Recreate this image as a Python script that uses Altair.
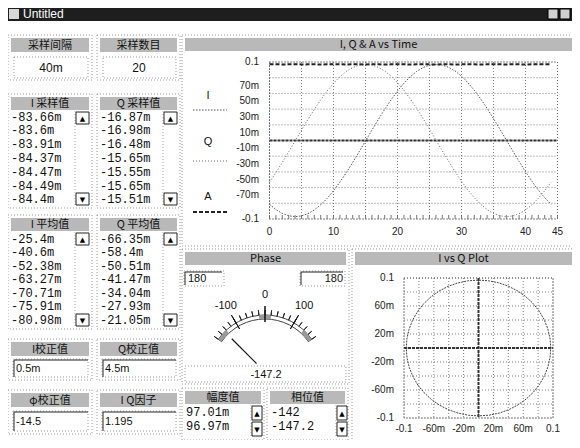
import altair as alt
import pandas as pd

M = 8  # page margin: reference pixel p is drawn at chart pixel p - M

# ---------------- values ----------------
time_idx = list(range(45))
i_wave_m = [-81.3, -88.0, -92.9, -95.9, -97.0, -96.1, -93.2, -88.5, -81.9, -73.7,
            -64.0, -53.0, -40.9, -27.9, -14.4, -0.6, 13.2, 26.7, 39.7, 51.9,
            63.1, 72.9, 81.3, 88.0, 92.9, 95.9, 97.0, 96.1, 93.2, 88.5,
            81.9, 73.7, 64.0, 53.0, 40.9, 27.9, 14.4, 0.6, -13.2, -26.7,
            -39.7, -51.9, -63.1, -72.9, -81.3]
q_wave_m = [-53.0, -40.9, -27.9, -14.4, -0.6, 13.2, 26.7, 39.7, 51.9, 63.1,
            72.9, 81.3, 88.0, 92.9, 95.9, 97.0, 96.1, 93.2, 88.5, 81.9,
            73.7, 64.0, 53.0, 40.9, 27.9, 14.4, 0.6, -13.2, -26.7, -39.7,
            -51.9, -63.1, -72.9, -81.3, -88.0, -92.9, -95.9, -97.0, -96.1, -93.2,
            -88.5, -81.9, -73.7, -64.0, -53.0]
a_wave_m = [97.0, 97.1, 96.9, 97.0, 97.2, 96.9, 97.0, 97.1, 96.8, 97.0,
            97.1, 97.0, 96.9, 97.2, 97.0, 96.9, 97.1, 97.0, 96.8, 97.0,
            97.1, 97.0, 96.9, 97.0, 97.2, 97.0, 96.9, 97.1, 97.0, 96.8,
            97.0, 97.1, 97.0, 96.9, 97.0, 97.2, 97.0, 96.9, 97.1, 97.0,
            96.8, 97.0, 97.1, 97.01, 96.97]

i_samples_m = [-83.66, -83.6, -83.91, -84.37, -84.47, -84.49, -84.4]
q_samples_m = [-16.87, -16.98, -16.48, -15.65, -15.55, -15.65, -15.51]
i_means_m = [-25.4, -40.6, -52.38, -63.27, -70.71, -75.91, -80.98]
q_means_m = [-66.35, -58.4, -50.51, -41.47, -34.04, -27.93, -21.05]
amp_list_m = [97.01, 96.97]
phase_list = [-142, -147.2]
meter_value = -147.2
meter_min, meter_max = -180, 180
meter_labels = [-100, 0, 100]
meter_ticks = list(range(-180, 181, 20))

sample_interval = "40m"
sample_count = "20"
i_corr = "0.5m"
q_corr = "4.5m"
phi_corr = "-14.5"
iq_factor = "1.195"

t_grid = [0, 5, 10, 15, 20, 25, 30, 35, 40, 45]
t_minor = list(range(0, 46))
t_labels = [0, 10, 20, 30, 40, 45]
v_grid = [-0.1, -0.08, -0.06, -0.04, -0.02, 0.0, 0.02, 0.04, 0.06, 0.08, 0.1]
v_label_vals = [0.1, 0.07, 0.05, 0.03, 0.01, -0.01, -0.03, -0.05, -0.07, -0.1]
v_label_text = ["0.1", "70m", "50m", "30m", "10m", "-10m", "-30m", "-50m", "-70m", "-0.1"]
iq_grid = [-0.1, -0.08, -0.06, -0.04, -0.02, 0.0, 0.02, 0.04, 0.06, 0.08, 0.1]
iq_label_vals = [-0.1, -0.06, -0.02, 0.02, 0.06, 0.1]
iq_label_text = ["-0.1", "-60m", "-20m", "20m", "60m", "0.1"]

# ---------------- helpers ----------------
SANS = "Liberation Sans"
CJK = "Noto Sans CJK SC"
MONO = "Liberation Mono"


def px(v):
    return v - M


def _shift(df, cols):
    for c in cols:
        df[c] = df[c] - M
    return df


def boxes(rows, **mk):
    df = _shift(pd.DataFrame(rows, columns=["x1", "y1", "x2", "y2"]), ["x1", "y1", "x2", "y2"])
    return alt.Chart(df).mark_rect(**mk).encode(
        x=alt.X("x1:Q", scale=None, axis=None), x2="x2",
        y=alt.Y("y1:Q", scale=None, axis=None), y2="y2")


def segs(rows, **mk):
    df = _shift(pd.DataFrame(rows, columns=["x1", "y1", "x2", "y2"]), ["x1", "y1", "x2", "y2"])
    return alt.Chart(df).mark_rule(**mk).encode(
        x=alt.X("x1:Q", scale=None, axis=None), x2="x2",
        y=alt.Y("y1:Q", scale=None, axis=None), y2="y2")


def texts(rows, **mk):
    df = _shift(pd.DataFrame(rows, columns=["x", "y", "label"]), ["x", "y"])
    return alt.Chart(df).mark_text(**mk).encode(
        x=alt.X("x:Q", scale=None, axis=None),
        y=alt.Y("y:Q", scale=None, axis=None),
        text="label:N")


layers = []

# ---------------- window title bar ----------------
layers.append(boxes([(0, 0, 580, 21)], fill="#1e1e1e"))
layers.append(boxes([(9, 9, 19, 19)], fill="#d8d8d8"))
layers.append(boxes([(548, 9, 558, 19), (560, 9, 570, 19)], fill="#d0d0d0", stroke="#000", strokeWidth=1))
layers.append(texts([(23, 14, "Untitled")], font=SANS, fontSize=12, color="white", align="left", baseline="middle"))

# ---------------- dotted group outlines ----------------
groups = [(8, 35, 92, 80), (97, 35, 180, 80), (8, 94, 92, 208), (97, 94, 180, 208),
          (8, 215, 92, 329), (97, 215, 180, 329), (8, 339, 92, 380), (97, 339, 180, 380),
          (8, 390, 92, 434), (97, 390, 180, 434), (182, 35, 575, 246), (182, 249, 349, 384),
          (352, 249, 575, 445), (182, 388, 264, 440), (267, 388, 348, 440)]
layers.append(boxes(groups, fillOpacity=0, stroke="#9a9a9a", strokeWidth=1, strokeDash=[1, 2]))

# value boxes
vboxes = [(14, 57, 88, 78), (103, 57, 176, 78), (13, 359, 88, 377), (102, 359, 176, 377),
          (13, 411, 88, 431), (102, 411, 176, 431), (185, 366, 346, 382),
          (184, 271, 224, 286), (300, 271, 345, 286)]
layers.append(boxes(vboxes, fillOpacity=0, stroke="#9a9a9a", strokeWidth=1, strokeDash=[1, 2]))
brackets = [(14, 360, 88, 360), (14, 360, 14, 377), (103, 360, 176, 360), (103, 360, 103, 377),
            (14, 412, 88, 412), (14, 412, 14, 431), (103, 412, 176, 412), (103, 412, 103, 431),
            (185, 272, 222, 272), (185, 272, 185, 285), (301, 272, 343, 272), (301, 272, 301, 285)]
layers.append(segs(brackets, color="#222", strokeWidth=1))

# ---------------- list boxes ----------------
rows = []
for k, v in enumerate(i_samples_m):
    rows.append((11, 116.5 + 13.8 * k, f"{v:g}m"))
for k, v in enumerate(q_samples_m):
    rows.append((100, 116.5 + 13.8 * k, f"{v:g}m"))
for k, v in enumerate(i_means_m):
    rows.append((11, 238.5 + 13.5 * k, f"{v:g}m"))
for k, v in enumerate(q_means_m):
    rows.append((100, 238.5 + 13.5 * k, f"{v:g}m"))
for k, v in enumerate(amp_list_m):
    rows.append((186, 412 + 14 * k, f"{v:g}m"))
for k, v in enumerate(phase_list):
    rows.append((271, 412 + 14 * k, f"{v:g}"))
layers.append(texts(rows, font=MONO, fontSize=12, color="#111", align="left", baseline="middle"))

# scrollbars
sb_lines = [(75, 111, 75, 205), (163, 111, 163, 205), (75, 232, 75, 326), (163, 232, 163, 326),
            (251, 405, 251, 437), (336, 405, 336, 437)]
layers.append(segs(sb_lines, color="#aaa", strokeWidth=1, strokeDash=[1, 2]))
arrow_boxes = [(76, 112, 89, 124), (76, 193, 89, 205), (164, 112, 177, 124), (164, 193, 177, 205),
               (76, 233, 89, 245), (76, 314, 89, 326), (164, 233, 177, 245), (164, 314, 177, 326),
               (252, 406, 262, 420), (252, 422, 262, 436), (337, 406, 347, 420), (337, 422, 347, 436)]
layers.append(boxes(arrow_boxes, fill="white", stroke="#222", strokeWidth=1))
arrows = []
for (x1, y1, x2, y2), g in zip(arrow_boxes, ["▲", "▼"] * 6):
    arrows.append(((x1 + x2) / 2, (y1 + y2) / 2 + 0.5, g))
layers.append(texts(arrows, font="DejaVu Sans", fontSize=7, color="#000", align="center", baseline="middle"))

# ---------------- headers ----------------
headers = [(11, 38, 89, 52, "采样间隔"), (100, 38, 177, 52, "采样数目"),
           (11, 97, 89, 110, "I 采样值"), (100, 97, 177, 110, "Q 采样值"),
           (11, 218, 89, 231, "I 平均值"), (100, 218, 177, 231, "Q 平均值"),
           (11, 342, 89, 356, "I校正值"), (100, 342, 177, 356, "Q校正值"),
           (11, 393, 89, 407, "φ校正值"), (100, 393, 177, 407, "I Q因子"),
           (185, 38, 572, 51, "I, Q & A vs Time"), (185, 252, 346, 265, "Phase"),
           (355, 252, 572, 265, "I vs Q Plot"), (185, 391, 261, 404, "幅度值"),
           (270, 391, 345, 404, "相位值")]
layers.append(boxes([h[:4] for h in headers], fill="#b9b9b9"))
layers.append(texts([((h[0] + h[2]) / 2, (h[1] + h[3]) / 2 + 0.5, h[4]) for h in headers],
                    font=CJK, fontSize=11, color="#111", align="center", baseline="middle"))

# control values
layers.append(texts([(51, 68, sample_interval), (139, 68, sample_count)],
                    font=SANS, fontSize=12, color="#111", align="center", baseline="middle"))
layers.append(texts([(16, 368.5, i_corr), (105, 368.5, q_corr), (16, 421.5, phi_corr), (105, 421.5, iq_factor)],
                    font=SANS, fontSize=11, color="#111", align="left", baseline="middle"))
layers.append(texts([(188, 279, str(meter_max))], font=SANS, fontSize=11, color="#111", align="left", baseline="middle"))
layers.append(texts([(343, 279, str(meter_max))], font=SANS, fontSize=11, color="#111", align="right", baseline="middle"))
layers.append(texts([(266, 374.5, f"{meter_value:g}")], font=SANS, fontSize=11, color="#111", align="center", baseline="middle"))

# ---------------- I, Q & A vs Time ----------------
TS = alt.Scale(domain=[0, 45], range=[px(269.5), px(557.5)], nice=False, zero=False)
VS = alt.Scale(domain=[-0.1, 0.1], range=[px(219), px(62)], nice=False, zero=False)

layers.append(alt.Chart(pd.DataFrame({"g": t_grid})).mark_rule(color="#808080", strokeWidth=1, strokeDash=[1, 2]).encode(
    x=alt.X("g:Q", scale=TS, axis=None), y=alt.value(px(62)), y2=alt.value(px(219))))
layers.append(alt.Chart(pd.DataFrame({"g": v_grid})).mark_rule(color="#808080", strokeWidth=1, strokeDash=[1, 2]).encode(
    y=alt.Y("g:Q", scale=VS, axis=None), x=alt.value(px(269.5)), x2=alt.value(px(557.5))))
layers.append(alt.Chart(pd.DataFrame({"g": t_minor})).mark_rule(color="#777", strokeWidth=1).encode(
    x=alt.X("g:Q", scale=TS, axis=None), y=alt.value(px(215)), y2=alt.value(px(219))))
layers.append(alt.Chart(pd.DataFrame({"v": v_label_vals, "label": v_label_text})).mark_text(
    font=SANS, fontSize=10, color="#222", align="right", baseline="middle").encode(
    y=alt.Y("v:Q", scale=VS, axis=None), x=alt.value(px(259)), text="label:N"))
layers.append(alt.Chart(pd.DataFrame({"t": t_labels})).mark_text(
    font=SANS, fontSize=10, color="#222", align="center", baseline="middle").encode(
    x=alt.X("t:Q", scale=TS, axis=None), y=alt.value(px(232)), text="t:N"))

wave = pd.DataFrame({"t": time_idx, "i": [v / 1000 for v in i_wave_m],
                     "q": [v / 1000 for v in q_wave_m], "a": [v / 1000 for v in a_wave_m]})
layers.append(alt.Chart(pd.DataFrame({"z": [0.0]})).mark_rule(color="#333", strokeWidth=2, strokeDash=[3, 1]).encode(
    y=alt.Y("z:Q", scale=VS, axis=None), x=alt.value(px(269.5)), x2=alt.value(px(557.5))))
layers.append(alt.Chart(wave).mark_line(color="#555", strokeWidth=1, strokeDash=[1.5, 1.5]).encode(
    x=alt.X("t:Q", scale=TS, axis=None), y=alt.Y("i:Q", scale=VS, axis=None)))
layers.append(alt.Chart(wave).mark_line(color="#666", strokeWidth=1, strokeDash=[1, 2]).encode(
    x=alt.X("t:Q", scale=TS, axis=None), y=alt.Y("q:Q", scale=VS, axis=None)))
layers.append(alt.Chart(wave).mark_line(color="#222", strokeWidth=2, strokeDash=[4, 2]).encode(
    x=alt.X("t:Q", scale=TS, axis=None), y=alt.Y("a:Q", scale=VS, axis=None)))
layers.append(boxes([(269.5, 62, 557.5, 219)], fillOpacity=0, stroke="#666", strokeWidth=1, strokeDash=[1, 2]))

# legend
layers.append(texts([(208, 96, "I"), (208, 142, "Q"), (208, 197, "A")],
                    font=SANS, fontSize=11, color="#111", align="center", baseline="middle"))
layers.append(segs([(193, 110, 227, 110)], color="#555", strokeWidth=1, strokeDash=[1.5, 1.5]))
layers.append(segs([(193, 161, 227, 161)], color="#666", strokeWidth=1, strokeDash=[1, 2]))
layers.append(segs([(193, 212, 227, 212)], color="#222", strokeWidth=2, strokeDash=[4, 2]))

# ---------------- I vs Q plot ----------------
IS = alt.Scale(domain=[-0.1, 0.1], range=[px(404), px(553)], nice=False, zero=False)
QS = alt.Scale(domain=[-0.1, 0.1], range=[px(418), px(278)], nice=False, zero=False)
layers.append(alt.Chart(pd.DataFrame({"g": iq_grid})).mark_rule(color="#808080", strokeWidth=1, strokeDash=[1, 2]).encode(
    x=alt.X("g:Q", scale=IS, axis=None), y=alt.value(px(278)), y2=alt.value(px(418))))
layers.append(alt.Chart(pd.DataFrame({"g": iq_grid})).mark_rule(color="#808080", strokeWidth=1, strokeDash=[1, 2]).encode(
    y=alt.Y("g:Q", scale=QS, axis=None), x=alt.value(px(404)), x2=alt.value(px(553))))
layers.append(alt.Chart(pd.DataFrame({"v": iq_label_vals, "label": iq_label_text})).mark_text(
    font=SANS, fontSize=10, color="#222", align="right", baseline="middle").encode(
    y=alt.Y("v:Q", scale=QS, axis=None), x=alt.value(px(394)), text="label:N"))
layers.append(alt.Chart(pd.DataFrame({"v": iq_label_vals, "label": iq_label_text})).mark_text(
    font=SANS, fontSize=10, color="#222", align="center", baseline="middle").encode(
    x=alt.X("v:Q", scale=IS, axis=None), y=alt.value(px(429)), text="label:N"))
layers.append(alt.Chart(pd.DataFrame({"z": [0.0]})).mark_rule(color="#333", strokeWidth=2, strokeDash=[3, 1]).encode(
    y=alt.Y("z:Q", scale=QS, axis=None), x=alt.value(px(404)), x2=alt.value(px(553))))
layers.append(alt.Chart(pd.DataFrame({"z": [0.0]})).mark_rule(color="#333", strokeWidth=2, strokeDash=[3, 1]).encode(
    x=alt.X("z:Q", scale=IS, axis=None), y=alt.value(px(278)), y2=alt.value(px(418))))
layers.append(alt.Chart(wave).mark_line(color="#444", strokeWidth=1, strokeDash=[2, 1]).encode(
    x=alt.X("i:Q", scale=IS, axis=None), y=alt.Y("q:Q", scale=QS, axis=None), order="t:Q"))
layers.append(boxes([(404, 278, 553, 418)], fillOpacity=0, stroke="#666", strokeWidth=1, strokeDash=[1, 2]))

# ---------------- phase meter ----------------
GS = alt.Scale(domain=[meter_min, meter_max], range=[-0.96, 0.96], zero=False, nice=False)
CX, CY = px(265), px(372)
layers.append(alt.Chart(pd.DataFrame({"a": [meter_min], "b": [meter_max]})).mark_arc(
    radius=57, radius2=53, fill="white", stroke="#444", strokeWidth=1).encode(
    theta=alt.Theta("a:Q", scale=GS, stack=False), theta2="b", x=alt.value(CX), y=alt.value(CY)))
layers.append(alt.Chart(pd.DataFrame({"a": [meter_min, 140, -20], "b": [-140, meter_max, 20]})).mark_arc(
    radius=57, radius2=53, fill="#9a9a9a").encode(
    theta=alt.Theta("a:Q", scale=GS, stack=False), theta2="b", x=alt.value(CX), y=alt.value(CY)))
layers.append(alt.Chart(pd.DataFrame({"v": meter_ticks})).mark_arc(
    radius=62, radius2=57, stroke="#222", strokeWidth=1, fill="#222").encode(
    theta=alt.Theta("v:Q", scale=GS, stack=False), theta2="v", x=alt.value(CX), y=alt.value(CY)))
layers.append(alt.Chart(pd.DataFrame({"v": meter_labels})).mark_arc(
    radius=66, radius2=50, stroke="#111", strokeWidth=1, fill="#111").encode(
    theta=alt.Theta("v:Q", scale=GS, stack=False), theta2="v", x=alt.value(CX), y=alt.value(CY)))
layers.append(alt.Chart(pd.DataFrame({"v": meter_labels})).mark_text(
    radius=77, font=SANS, fontSize=11, color="#111", align="center", baseline="middle").encode(
    theta=alt.Theta("v:Q", scale=GS, stack=False), x=alt.value(CX), y=alt.value(CY), text="v:N"))
layers.append(alt.Chart(pd.DataFrame({"v": [meter_value]})).mark_arc(
    radius=47, radius2=12, stroke="#111", strokeWidth=1.2, fill="#111").encode(
    theta=alt.Theta("v:Q", scale=GS, stack=False), theta2="v", x=alt.value(CX), y=alt.value(CY)))

chart = alt.layer(*layers).resolve_scale(x="independent", y="independent").properties(
    width=564, height=432, padding=0, autosize=alt.AutoSizeParams(type="none"),
    background="white").configure_view(strokeWidth=0)

chart.save("out.html", embed_options={"renderer": "svg", "actions": False})
